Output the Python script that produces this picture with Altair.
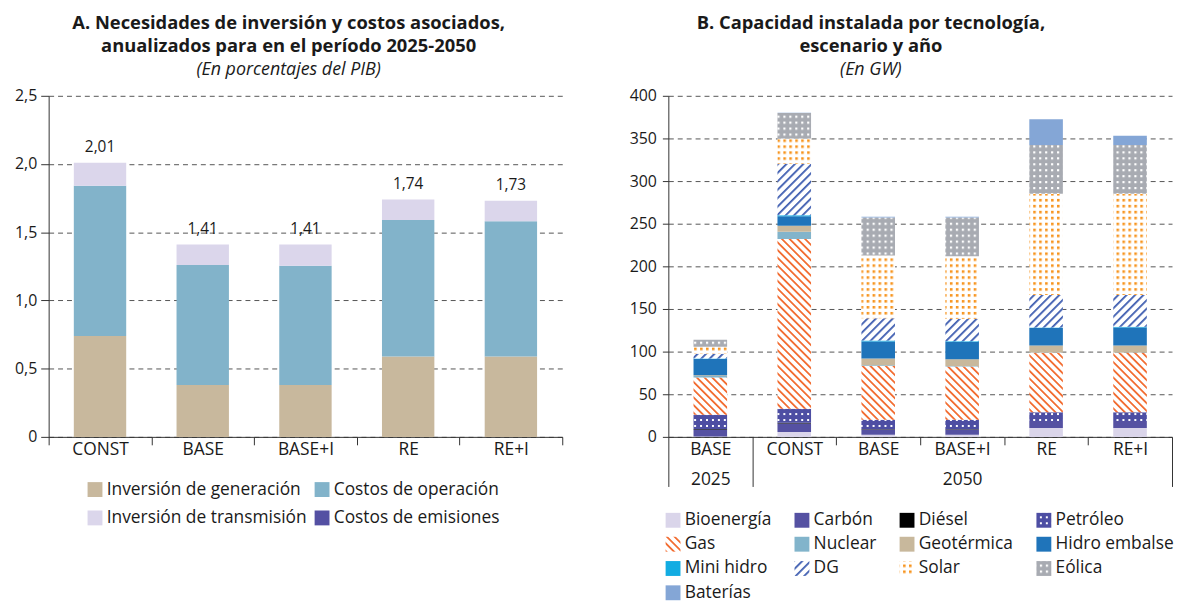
import altair as alt
import pandas as pd
import jinja2

# ---------------- Panel A data ----------------
scen_a = ["CONST", "BASE", "BASE+I", "RE", "RE+I"]
comp_a = ["Inversión de generación", "Costos de operación",
          "Inversión de transmisión", "Costos de emisiones"]
gen_a = [0.74, 0.38, 0.38, 0.59, 0.59]
ops_a = [1.10, 0.88, 0.875, 1.00, 0.99]
trans_a = [0.17, 0.15, 0.155, 0.15, 0.15]
emis_a = [0.0, 0.0, 0.0, 0.0, 0.0]
totals_a = [2.01, 1.41, 1.41, 1.74, 1.73]
colors_a = ["#C8B89D", "#82B3CA", "#DBD6EB", "#5450A3"]

# ---------------- Panel B data ----------------
cats_b = ["BASE 2025", "CONST", "BASE", "BASE+I", "RE", "RE+I"]
techs = ["Bioenergía", "Carbón", "Diésel", "Petróleo", "Gas", "Nuclear",
         "Geotérmica", "Hidro embalse", "Mini hidro", "DG", "Solar",
         "Eólica", "Baterías"]
bio = [0.5, 5.8, 2.5, 2.5, 10.4, 10.4]
carbon = [7.5, 10.0, 5.9, 5.9, 8.2, 8.2]
diesel = [0.9, 0.8, 0.5, 0.5, 0.0, 0.0]
petroleo = [17.0, 16.3, 11.2, 11.2, 10.4, 10.4]
gas = [43.7, 199.1, 63.0, 62.3, 69.6, 69.6]
nuclear = [1.7, 8.5, 0.8, 0.8, 0.5, 0.5]
geotermica = [1.0, 7.0, 8.1, 7.7, 8.0, 8.0]
hidro = [19.0, 11.2, 20.0, 20.3, 20.5, 21.3]
minihidro = [0.7, 1.2, 0.9, 0.9, 0.8, 0.8]
dg = [5.4, 60.3, 26.3, 26.3, 37.9, 37.1]
solar = [8.2, 29.8, 73.5, 73.5, 118.7, 118.7]
eolica = [8.4, 29.7, 44.5, 45.3, 57.2, 57.2]
baterias = [0.0, 0.5, 1.1, 1.1, 30.2, 10.9]
series_b = [bio, carbon, diesel, petroleo, gas, nuclear, geotermica,
            hidro, minihidro, dg, solar, eolica, baterias]
colors_b = ["#DAD5EA", "#5551A2", "#000000", "url(#pPetroleo)", "url(#pGas)",
            "#82B4CB", "#C8B89C", "#1F74BA", "#12ACE2", "url(#pDG)",
            "url(#pSolar)", "url(#pEolica)", "#84A6D6"]

# ---------------- tables ----------------
rows_a = []
for i, s in enumerate(scen_a):
    for k, (c, vals) in enumerate(zip(comp_a, [gen_a, ops_a, trans_a, emis_a])):
        rows_a.append({"Escenario": s, "Componente": c, "Valor": vals[i], "orden": k})
df_a = pd.DataFrame(rows_a)
df_tot = pd.DataFrame({
    "Escenario": scen_a,
    "Total": totals_a,
    "Etiqueta": [f"{v:.2f}".replace(".", ",") for v in totals_a],
})

rows_b = []
for i, c in enumerate(cats_b):
    for k, (t, vals) in enumerate(zip(techs, series_b)):
        rows_b.append({"Cat": c, "Tecnologia": t, "GW": vals[i], "orden": k})
df_b = pd.DataFrame(rows_b)

FONT = "Open Sans"
TXT = "#1a1a1a"
AX = "#333333"
TITLE_FS = 18.5
SUB_FS = 18
XLAB_FS = 17.5
YLAB_FS = 16
LEG_FS = 17.5

# ---------------- Panel A ----------------
W_A = 518
P_A = 0.49
STEP_A = W_A / len(scen_a)
GAP_A = P_A * STEP_A / 2
x_a = alt.X("Escenario:N", sort=scen_a,
            scale=alt.Scale(paddingInner=P_A, paddingOuter=P_A / 2),
            axis=alt.Axis(title=None, labelAngle=0,
                          bandPosition=1 / (1 - P_A), tickOffset=-GAP_A,
                          labelOffset=GAP_A, tickExtra=True,
                          tickSize=8, labelFontSize=XLAB_FS, labelPadding=-4,
                          labelColor=TXT, domainColor=AX, tickColor=AX,
                          grid=False, labelFont=FONT))
bars_a = alt.Chart(df_a).mark_bar().encode(
    x=x_a,
    y=alt.Y("Valor:Q", stack="zero", scale=alt.Scale(domain=[0, 2.5], nice=False),
            axis=alt.Axis(title=None, values=[0, 0.5, 1, 1.5, 2, 2.5],
                          labelExpr="datum.value == 0 ? '0' : replace(format(datum.value, '.1f'), '.', ',')",
                          grid=True, gridDash=[5, 4], gridColor="#555555",
                          tickSize=8, labelPadding=4, labelFontSize=YLAB_FS,
                          labelColor=TXT, domainColor=AX, tickColor=AX,
                          labelFont=FONT)),
    color=alt.Color("Componente:N",
                    scale=alt.Scale(domain=comp_a, range=colors_a),
                    legend=alt.Legend(title=None, orient="none", legendX=38, legendY=388,
                                      direction="horizontal", columns=2,
                                      symbolType="square", symbolSize=225,
                                      symbolStrokeWidth=0, symbolOpacity=1,
                                      labelFontSize=LEG_FS, labelFont=FONT, labelColor=TXT,
                                      rowPadding=10, columnPadding=6, labelOffset=3,
                                      labelLimit=400)),
    order=alt.Order("orden:Q", sort="ascending"),
)
text_a = alt.Chart(df_tot).mark_text(baseline="bottom", dy=-8, fontSize=15.5,
                                     font=FONT, color=TXT).encode(
    x=alt.X("Escenario:N", sort=scen_a),
    y=alt.Y("Total:Q"),
    text="Etiqueta:N",
)
left = alt.layer(bars_a, text_a).properties(
    width=W_A, height=344,
    title=alt.TitleParams(
        text=["A. Necesidades de inversión y costos asociados,",
              "anualizados para en el período 2025-2050"],
        subtitle="(En porcentajes del PIB)",
        fontSize=TITLE_FS, fontWeight="bold", font=FONT, color=TXT,
        subtitleFontSize=SUB_FS, subtitleFontStyle="italic", subtitleFont=FONT,
        subtitleColor=TXT, lineHeight=23, subtitleLineHeight=22, subtitlePadding=6,
        anchor="middle", frame="bounds", offset=9),
)

# ---------------- Panel B ----------------
W_B = 508
P_B = 0.6
STEP_B = W_B / len(cats_b)
GAP_B = P_B * STEP_B / 2
LONG = "datum.value == 'BASE 2025' || datum.value == 'RE+I' || !isValid(datum.value)"
label_expr_b = ("datum.value == 'BASE 2025' ? ['BASE', '2025'] : "
                "datum.value == 'BASE+I' ? ['BASE+I', '2050'] : datum.value")
x_b = alt.X("Cat:N", sort=cats_b,
            scale=alt.Scale(paddingInner=P_B, paddingOuter=P_B / 2),
            axis=alt.Axis(title=None, labelAngle=0,
                          bandPosition=1 / (1 - P_B), tickOffset=-GAP_B,
                          labelOffset=GAP_B, tickExtra=True,
                          tickSize={"condition": {"test": LONG, "value": 50}, "value": 8},
                          labelPadding={"condition": {"test": LONG, "value": -46}, "value": -4},
                          labelExpr=label_expr_b, labelLineHeight=30,
                          labelBaseline="top", labelFontSize=XLAB_FS,
                          labelColor=TXT, domainColor=AX, tickColor=AX,
                          grid=False, labelFont=FONT))
right = alt.Chart(df_b).mark_bar().encode(
    x=x_b,
    y=alt.Y("GW:Q", stack="zero", scale=alt.Scale(domain=[0, 400], nice=False),
            axis=alt.Axis(title=None, values=list(range(0, 401, 50)),
                          grid=True, gridDash=[5, 4], gridColor="#555555",
                          tickSize=6, labelPadding=6, labelFontSize=YLAB_FS,
                          labelColor=TXT, domainColor=AX, tickColor=AX,
                          labelFont=FONT)),
    color=alt.Color("Tecnologia:N",
                    scale=alt.Scale(domain=techs, range=colors_b),
                    legend=alt.Legend(title=None, orient="none", legendX=-4, legendY=419,
                                      direction="horizontal", columns=4,
                                      symbolType="square", symbolSize=225,
                                      symbolStrokeWidth=0, symbolOpacity=1,
                                      labelFontSize=LEG_FS, labelFont=FONT, labelColor=TXT,
                                      rowPadding=5.5, columnPadding=22, labelOffset=3,
                                      labelLimit=400)),
    order=alt.Order("orden:Q", sort="ascending"),
).properties(
    width=W_B, height=344,
    title=alt.TitleParams(
        text=["B. Capacidad instalada por tecnología,", "escenario y año"],
        subtitle="(En GW)",
        fontSize=TITLE_FS, fontWeight="bold", font=FONT, color=TXT,
        subtitleFontSize=SUB_FS, subtitleFontStyle="italic", subtitleFont=FONT,
        subtitleColor=TXT, lineHeight=23, subtitleLineHeight=22, subtitlePadding=6,
        anchor="middle", frame="bounds", offset=9, dx=-31),
)

chart = alt.hconcat(left, right, spacing=66).resolve_scale(
    color="independent", x="independent", y="independent"
).configure(
    padding={"left": 6, "top": 3, "right": 0, "bottom": 0},
    font=FONT,
).configure_view(stroke=None)

TEMPLATE = jinja2.Template("""<!DOCTYPE html>
<html>
<head>
  <meta charset="utf-8">
  <style>
    #{{ output_div }}.vega-embed { width: 100%; display: flex; }
  </style>
  <script type="text/javascript" src="{{ base_url }}/vega@{{ vega_version }}"></script>
  <script type="text/javascript" src="{{ base_url }}/vega-lite@{{ vegalite_version }}"></script>
  <script type="text/javascript" src="{{ base_url }}/vega-embed@{{ vegaembed_version }}"></script>
</head>
<body>
  <svg width="0" height="0" style="position:absolute;left:0;top:0" aria-hidden="true">
    <defs>
      <pattern id="pGas" patternUnits="userSpaceOnUse" width="5.5" height="5.5" patternTransform="rotate(-45)">
        <rect width="5.5" height="5.5" fill="#ffffff"/>
        <rect x="0" y="0" width="1.8" height="5.5" fill="#F26B2F"/>
      </pattern>
      <pattern id="pDG" patternUnits="userSpaceOnUse" width="6" height="6" patternTransform="rotate(45)">
        <rect width="6" height="6" fill="#ffffff"/>
        <rect x="0" y="0" width="1.8" height="6" fill="#3D5CB0"/>
      </pattern>
      <pattern id="pSolar" patternUnits="userSpaceOnUse" width="6" height="6">
        <rect width="6" height="6" fill="#ffffff"/>
        <rect x="2" y="2" width="2.6" height="2.6" fill="#F7941D"/>
      </pattern>
      <pattern id="pEolica" patternUnits="userSpaceOnUse" width="6" height="6">
        <rect width="6" height="6" fill="#A8ABB2"/>
        <rect x="2" y="2" width="2.2" height="2.2" fill="#ffffff"/>
      </pattern>
      <pattern id="pPetroleo" patternUnits="userSpaceOnUse" width="6" height="6">
        <rect width="6" height="6" fill="#4D4EA3"/>
        <rect x="2" y="2" width="2" height="2" fill="#ffffff"/>
      </pattern>
    </defs>
  </svg>
  <div id="{{ output_div }}"></div>
  <script>
    (function(vegaEmbed) {
      var spec = {{ spec }};
      var embedOpt = {{ embed_options }};
      const el = document.getElementById('{{ output_div }}');
      vegaEmbed("#{{ output_div }}", spec, embedOpt).catch(function(error) {
        el.innerHTML = '<div style="color:red;">' + error.message + '</div>';
        throw error;
      });
    })(vegaEmbed);
  </script>
</body>
</html>
""")

chart.save("out.html", embed_options={"renderer": "svg", "actions": False},
           template=TEMPLATE)
